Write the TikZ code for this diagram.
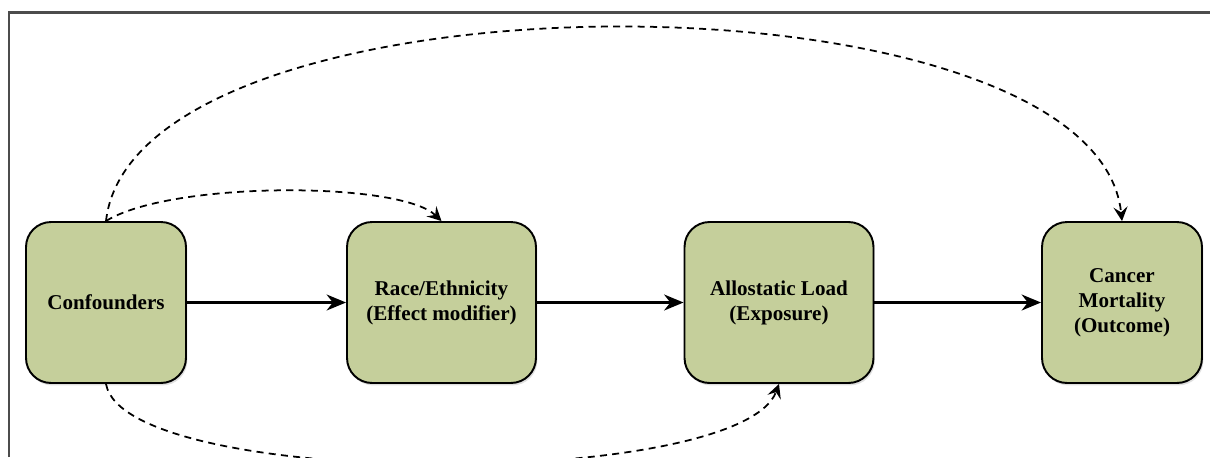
\documentclass[tikz,border=0pt]{standalone}
\usepackage{fontspec}
\setmainfont{Liberation Serif}
\usetikzlibrary{arrows.meta,shadows}
\definecolor{boxgreen}{RGB}{197,207,155}
\begin{document}
\begin{tikzpicture}[x=0.02cm,y=-0.02cm,
    box/.style={draw=black, line width=1.1pt, fill=boxgreen, rounded corners=0.5cm,
      minimum width=3.2cm, minimum height=3.22cm, inner sep=0pt, align=center,
      font=\fontsize{12}{14.2}\selectfont\bfseries,
      drop shadow={shadow xshift=0.8pt, shadow yshift=-1.4pt, opacity=0.25}},
    widebox/.style={box, minimum width=3.78cm},
    solidarrow/.style={line width=1.8pt, -{Stealth[length=11pt,width=9pt,inset=3.5pt]}},
    dasharrow/.style={line width=1pt, dash pattern=on 4pt off 3pt,
      -{Stealth[length=8pt,width=8pt,inset=3pt]}}]
% \clip to the picture size
\useasboundingbox (0,0) rectangle (1210,457);
\clip (0,0) rectangle (1210,457);

% Drawing frame
\draw [line width=1.3pt, black!70] (9,457) -- (9,12.5) -- (1210,12.5);%

% Drawing boxes
\node [box] (conf) at (106,302.5) {Confounders};%
\node [widebox] (race) at (441.5,302.5) {Race/Ethnicity\\(Effect modifier)};%
\node [widebox] (load) at (779,302.5) {Allostatic Load\\(Exposure)};%
\node [box] (mort) at (1122,302.5) {Cancer\\Mortality\\(Outcome)};%

% Drawing solid arrows
\draw [solidarrow] (conf.east) -- (race.west);%
\draw [solidarrow] (race.east) -- (load.west);%
\draw [solidarrow] (load.east) -- (mort.west);%

% Drawing dashed arrows
\draw [dasharrow] (conf.north) .. controls (135,-37) and (1095,-37) .. (mort.north);%
\draw [dasharrow] (conf.north) .. controls (170,181) and (400,181) .. (race.north);%
\draw [dasharrow] (conf.south) .. controls (125,490) and (740,490) .. (load.south);%
\end{tikzpicture}
\end{document}
